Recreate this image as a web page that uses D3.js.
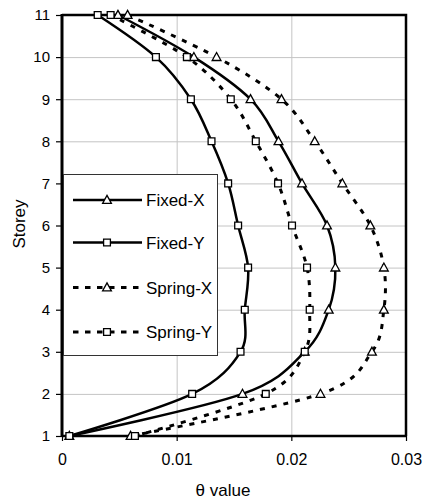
<!DOCTYPE html>
<html>
<head>
<meta charset="utf-8">
<script src="https://cdn.jsdelivr.net/npm/d3@7/dist/d3.min.js"></script>
<style>
  body { margin: 0; background: #fff; }
  text { font-family: "Liberation Sans", Arial, sans-serif; fill: #000; }
</style>
</head>
<body>
<svg id="chart" width="427" height="501"></svg>
<script>
// Storey levels and inter-storey rotation θ for each support case
const storeys  = [1, 2, 3, 4, 5, 6, 7, 8, 9, 10, 11];
const fixedX   = [0.00064, 0.01574, 0.02117, 0.02326, 0.02384, 0.02311, 0.02093, 0.01888, 0.01644, 0.01150, 0.00488];
const fixedY   = [0.00064, 0.01135, 0.01557, 0.01594, 0.01623, 0.01536, 0.01449, 0.01304, 0.01124, 0.00819, 0.00311];
const springX  = [0.00598, 0.02254, 0.02703, 0.02807, 0.02807, 0.02689, 0.02445, 0.02204, 0.01914, 0.01348, 0.00572];
const springY  = [0.00636, 0.01777, 0.02117, 0.02160, 0.02137, 0.02006, 0.01884, 0.01690, 0.01472, 0.01089, 0.00424];

const seriesNames = ["Fixed-X", "Fixed-Y", "Spring-X", "Spring-Y"];
const xTicks = [0, 0.01, 0.02, 0.03];
const yTicks = [1, 2, 3, 4, 5, 6, 7, 8, 9, 10, 11];

const series = [
  { name: seriesNames[0], values: fixedX,  marker: "tri", dashed: false },
  { name: seriesNames[1], values: fixedY,  marker: "sq",  dashed: false },
  { name: seriesNames[2], values: springX, marker: "tri", dashed: true },
  { name: seriesNames[3], values: springY, marker: "sq",  dashed: true }
];

const svg = d3.select("#chart");
const plot = { left: 62, right: 406, top: 15, bottom: 436 };

const x = d3.scaleLinear().domain([0, 0.03]).range([plot.left, plot.right]);
const y = d3.scaleLinear().domain([1, 11]).range([plot.bottom, plot.top]);

// gridlines
const grid = svg.append("g").attr("stroke", "#c4c4c4").attr("stroke-width", 1);
grid.selectAll("line.h").data(yTicks.slice(1, -1)).join("line")
  .attr("x1", plot.left).attr("x2", plot.right)
  .attr("y1", d => y(d) + 0.5).attr("y2", d => y(d) + 0.5);
grid.selectAll("line.v").data(xTicks.slice(1, -1)).join("line")
  .attr("y1", plot.top).attr("y2", plot.bottom)
  .attr("x1", d => x(d) + 0.5).attr("x2", d => x(d) + 0.5);

// plot frame (top and right edges)
svg.append("path")
  .attr("d", `M${plot.left},${plot.top}H${plot.right}V${plot.bottom}`)
  .attr("fill", "none").attr("stroke", "#000").attr("stroke-width", 2.5);

// axes
const xAxis = d3.axisBottom(x).tickValues(xTicks).tickFormat(d => d === 0 ? "0" : d3.format(".2f")(d)).tickSize(5).tickPadding(13);
const gx = svg.append("g").attr("transform", `translate(0,${plot.bottom})`).call(xAxis);
const yAxis = d3.axisLeft(y).tickValues(yTicks).tickFormat(d3.format("d")).tickSize(6).tickPadding(6);
const gy = svg.append("g").attr("transform", `translate(${plot.left},0)`).call(yAxis);
[gx, gy].forEach(g => {
  g.select(".domain").remove();
  g.selectAll(".tick line").attr("stroke", "#000").attr("stroke-width", 1.2);
  g.selectAll(".tick text").attr("font-family", "Liberation Sans, Arial, sans-serif").attr("fill", "#000");
});
gx.selectAll(".tick text").attr("font-size", 16);
gy.selectAll(".tick text").attr("font-size", 15);

svg.append("line").attr("x1", plot.left).attr("x2", plot.right)
  .attr("y1", plot.bottom).attr("y2", plot.bottom)
  .attr("stroke", "#000").attr("stroke-width", 2.5);
svg.append("line").attr("x1", plot.left).attr("x2", plot.left)
  .attr("y1", plot.top - 1).attr("y2", plot.bottom + 1)
  .attr("stroke", "#000").attr("stroke-width", 3);

// axis titles
svg.append("text").attr("x", 223).attr("y", 496).attr("text-anchor", "middle")
  .attr("font-size", 17).text("θ value");
svg.append("text").attr("transform", "translate(25,224) rotate(-90)")
  .attr("text-anchor", "middle").attr("font-size", 17).text("Storey");

// markers
const triPath = "M0,-4.6L4.4,3.4L-4.4,3.4Z";
const sqPath = "M-3.4,-3.4H3.4V3.4H-3.4Z";
function drawMarker(g, type, cx, cy) {
  g.append("path").attr("d", type === "tri" ? triPath : sqPath)
    .attr("transform", `translate(${cx},${cy})`)
    .attr("fill", "#fff").attr("stroke", "#000").attr("stroke-width", 1.3);
}

const line = d3.line()
  .x(d => x(d[0])).y(d => y(d[1]))
  .curve(d3.curveCatmullRom.alpha(0));

const marks = svg.append("g");
series.forEach(s => {
  const pts = s.values.map((v, i) => [v, storeys[i]]);
  marks.append("path").attr("d", line(pts))
    .attr("fill", "none").attr("stroke", "#000")
    .attr("stroke-width", s.dashed ? 3 : 2.5)
    .attr("stroke-dasharray", s.dashed ? "5,7" : null);
});
series.forEach(s => {
  s.values.forEach((v, i) => drawMarker(marks, s.marker, x(v), y(storeys[i])));
});

// legend
const lg = svg.append("g");
lg.append("rect").attr("x", 63.5).attr("y", 174.5).attr("width", 154).attr("height", 181)
  .attr("fill", "#fff").attr("stroke", "#333").attr("stroke-width", 1);
const rowY = [200, 242.5, 287.5, 332];
series.forEach((s, i) => {
  const ry = rowY[i];
  lg.append("line").attr("x1", 73).attr("x2", 142).attr("y1", ry).attr("y2", ry)
    .attr("stroke", "#000").attr("stroke-width", s.dashed ? 3 : 2.5)
    .attr("stroke-dasharray", s.dashed ? "5.5,6.5" : null);
  drawMarker(lg, s.marker, 107, ry);
  lg.append("text").attr("x", 146).attr("y", ry + 6).attr("font-size", 17).text(s.name);
});
</script>
</body>
</html>
